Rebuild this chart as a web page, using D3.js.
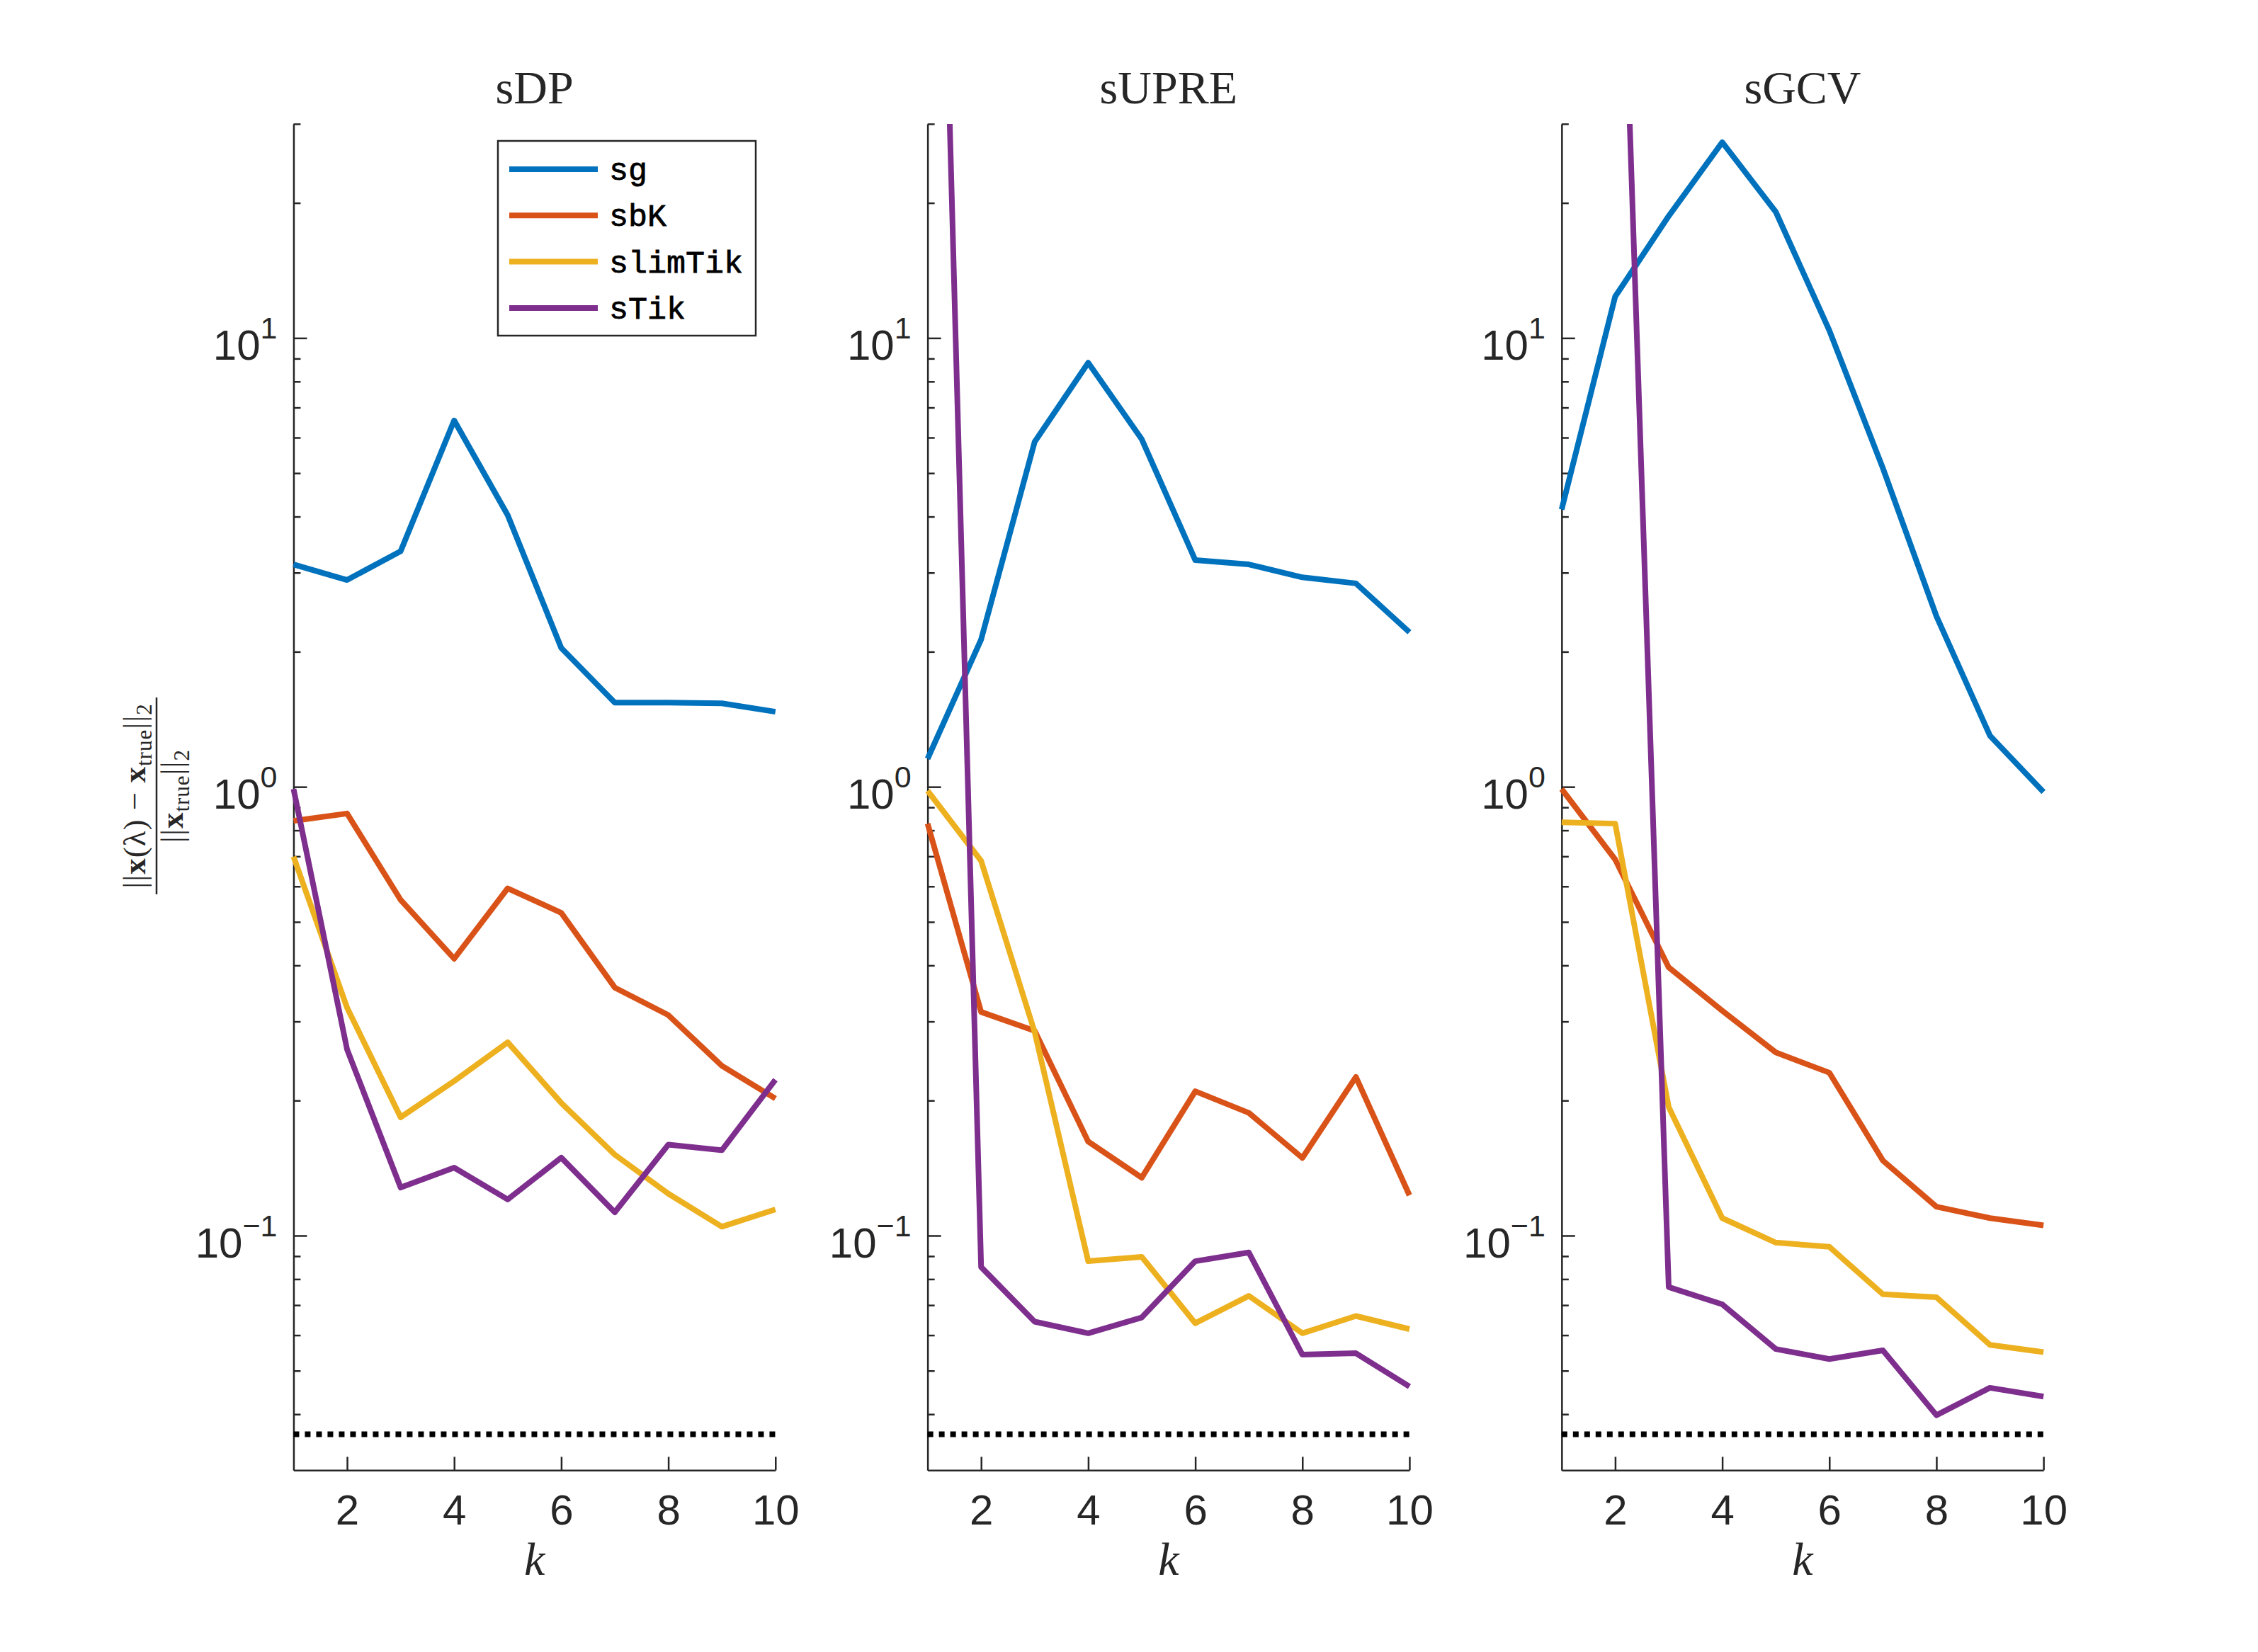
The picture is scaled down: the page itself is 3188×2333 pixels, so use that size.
<!DOCTYPE html>
<html>
<head>
<meta charset="utf-8">
<script src="https://cdn.jsdelivr.net/npm/d3@7"></script>
<style>
  body { margin: 0; background: #fff; }
  svg { display: block; }
</style>
</head>
<body>
<div id="chart"></div>
<script>
const width = 3188;
const height = 2333;

// data
const kValues = [1, 2, 3, 4, 5, 6, 7, 8, 9, 10];
const panelTitles = ['sDP', 'sUPRE', 'sGCV'];
const methodNames = ['sg', 'sbK', 'slimTik', 'sTik'];
const methodColors = ['#0072BD', '#D95319', '#EDB120', '#7E2F8E'];

const sdpSg = [3.13, 2.89, 3.35, 6.55, 4.03, 2.04, 1.54, 1.54, 1.535, 1.47];
const sdpSbK = [0.84, 0.872, 0.56, 0.414, 0.594, 0.524, 0.357, 0.31, 0.239, 0.202];
const sdpSlimTik = [0.699, 0.322, 0.1835, 0.221, 0.2696, 0.1976, 0.1515, 0.124, 0.1047, 0.1144];
const sdpSTik = [0.989, 0.26, 0.128, 0.1417, 0.1204, 0.1492, 0.1127, 0.1595, 0.155, 0.2225];

const supreSg = [1.155, 2.13, 5.87, 8.81, 5.95, 3.2, 3.13, 2.93, 2.84, 2.21];
const supreSbK = [0.828, 0.315, 0.286, 0.162, 0.1346, 0.2097, 0.1877, 0.149, 0.2257, 0.123];
const supreSlimTik = [0.98, 0.684, 0.284, 0.0877, 0.0897, 0.0638, 0.0734, 0.0606, 0.0662, 0.0619];
const supreSTik = [1900, 0.0851, 0.0643, 0.0606, 0.0657, 0.0877, 0.0917, 0.0543, 0.0547, 0.0461];

const sgcvSg = [4.15, 12.37, 18.7, 27.3, 19.1, 10.4, 5.13, 2.4, 1.3, 0.974];
const sgcvSbK = [0.989, 0.689, 0.396, 0.317, 0.256, 0.2307, 0.147, 0.116, 0.1094, 0.1054];
const sgcvSlimTik = [0.834, 0.828, 0.1933, 0.1094, 0.0965, 0.0944, 0.074, 0.0729, 0.0571, 0.055];
const sgcvSTik = [1500, 280, 0.0768, 0.0703, 0.0559, 0.0531, 0.0555, 0.0398, 0.0458, 0.0438];

// dotted reference level
const optimalError = 0.0361;

const xTicks = [2, 4, 6, 8, 10];
const yMajorTicks = [0.1, 1, 10];
const yMajorLabels = [['10', '-1'], ['10', '0'], ['10', '1']];
const yMinorTicks = [0.04, 0.05, 0.06, 0.07, 0.08, 0.09, 0.2, 0.3, 0.4, 0.5, 0.6, 0.7, 0.8, 0.9,
  2, 3, 4, 5, 6, 7, 8, 9, 20, 30];

const panelSeries = [
  [sdpSg, sdpSbK, sdpSlimTik, sdpSTik],
  [supreSg, supreSbK, supreSlimTik, supreSTik],
  [sgcvSg, sgcvSbK, sgcvSlimTik, sgcvSTik],
];

//
// layout (matlab subplot(1,3,i) positions)
//
const axLefts = [0.13, 0.4108, 0.6916].map(f => f * width);
const axWidth = 0.2134 * width;
const axHeight = 0.815 * height;
const axTop = height - 0.11 * height - axHeight;

const textGray = '#262626';
const sansFont = '"Liberation Sans", Arial, Helvetica, sans-serif';
const serifFont = '"Liberation Serif", "Times New Roman", serif';
const monoFont = '"Liberation Mono", "Courier New", monospace';

const svg = d3.select('#chart').append('svg')
  .attr('width', width)
  .attr('height', height);

svg.append('rect')
  .attr('width', width)
  .attr('height', height)
  .attr('fill', '#fff');

const x = d3.scaleLinear().domain([1, 10]).range([0, axWidth]);
const y = d3.scaleLog().domain([0.03, 30]).range([axHeight, 0]);

const line = d3.line()
  .x((d, i) => x(kValues[i]))
  .y(d => y(d));

panelSeries.forEach((seriesList, p) => {
  const g = svg.append('g')
    .attr('transform', `translate(${axLefts[p]},${axTop})`);

  g.append('clipPath')
    .attr('id', `clip${p}`)
    .append('rect')
      .attr('x', -10)
      .attr('y', 0)
      .attr('width', axWidth + 20)
      .attr('height', axHeight);

  // y axis, major + minor ticks pointing inward
  const yAxisMajor = g.append('g')
    .call(d3.axisLeft(y).tickValues(yMajorTicks).tickSize(-19).tickSizeOuter(0).tickFormat(''));
  const yAxisMinor = g.append('g')
    .call(d3.axisLeft(y).tickValues(yMinorTicks).tickSize(-10).tickSizeOuter(0).tickFormat(''));
  yAxisMinor.select('.domain').remove();

  const xAxis = g.append('g')
    .attr('transform', `translate(0,${axHeight})`)
    .call(d3.axisBottom(x).tickValues(xTicks).tickSize(-19).tickSizeOuter(0).tickPadding(34));

  [yAxisMajor, yAxisMinor, xAxis].forEach(a => {
    a.selectAll('path, line')
      .attr('stroke', textGray)
      .attr('stroke-width', 2.5);
  });
  xAxis.selectAll('text')
    .attr('fill', textGray)
    .style('font-family', sansFont)
    .style('font-size', '60px');

  // log tick labels with superscripts
  yMajorTicks.forEach((v, i) => {
    const t = g.append('text')
      .attr('x', -23)
      .attr('y', y(v) + 31)
      .attr('text-anchor', 'end')
      .attr('fill', textGray)
      .style('font-family', sansFont)
      .style('font-size', '60px');
    t.append('tspan').text(yMajorLabels[i][0]);
    t.append('tspan')
      .attr('dy', -30)
      .style('font-size', '43px')
      .text(yMajorLabels[i][1].replace('-', '\u2212'));
  });

  // dotted reference
  g.append('line')
    .attr('x1', x(1))
    .attr('x2', x(10))
    .attr('y1', y(optimalError))
    .attr('y2', y(optimalError))
    .attr('stroke', '#000')
    .attr('stroke-width', 8)
    .attr('stroke-dasharray', '8,8');

  const lines = g.append('g').attr('clip-path', `url(#clip${p})`);
  seriesList.forEach((series, m) => {
    lines.append('path')
      .datum(series)
      .attr('d', line)
      .attr('fill', 'none')
      .attr('stroke', methodColors[m])
      .attr('stroke-width', 8)
      .attr('stroke-linejoin', 'round');
  });

  g.append('text')
    .attr('x', axWidth / 2)
    .attr('y', -29)
    .attr('text-anchor', 'middle')
    .attr('fill', textGray)
    .style('font-family', serifFont)
    .style('font-size', '66px')
    .text(panelTitles[p]);

  g.append('text')
    .attr('x', axWidth / 2)
    .attr('y', axHeight + 148)
    .attr('text-anchor', 'middle')
    .attr('fill', textGray)
    .style('font-family', serifFont)
    .style('font-style', 'italic')
    .style('font-size', '66px')
    .text('k');
});

//
// legend in the first panel
//
const legend = svg.append('g')
  .attr('transform', 'translate(703,199)');

legend.append('rect')
  .attr('width', 364)
  .attr('height', 275)
  .attr('fill', '#fff')
  .attr('stroke', textGray)
  .attr('stroke-width', 2.5);

methodNames.forEach((name, i) => {
  const rowY = 40 + i * 65.3;
  legend.append('line')
    .attr('x1', 16)
    .attr('x2', 141)
    .attr('y1', rowY)
    .attr('y2', rowY)
    .attr('stroke', methodColors[i])
    .attr('stroke-width', 8);
  legend.append('text')
    .attr('x', 157)
    .attr('y', rowY + 15)
    .attr('fill', '#000')
    .style('font-family', monoFont)
    .style('font-size', '45px')
    .style('stroke', '#000')
    .style('stroke-width', 0.8)
    .text(name);
});

//
// y label: fraction, rotated
//
const yLabel = svg.append('g')
  .attr('transform', 'translate(221,1124) rotate(-90)')
  .attr('fill', textGray)
  .style('font-family', serifFont)
  .style('font-size', '45px');

yLabel.append('line')
  .attr('x1', -139)
  .attr('x2', 139)
  .attr('stroke', textGray)
  .attr('stroke-width', 2.5);

const numerator = yLabel.append('text')
  .attr('y', -16)
  .attr('text-anchor', 'middle')
  .style('letter-spacing', '1px');
numerator.append('tspan').text('||');
numerator.append('tspan').style('font-weight', 'bold').text('x');
numerator.append('tspan').text('(λ) \u2212 ');
numerator.append('tspan').style('font-weight', 'bold').text('x');
numerator.append('tspan').attr('dy', 9).style('font-size', '31px').text('true');
numerator.append('tspan').attr('dy', -9).text('||');
numerator.append('tspan').attr('dy', 9).style('font-size', '31px').text('2');

const denominator = yLabel.append('text')
  .attr('y', 37)
  .attr('text-anchor', 'middle')
  .style('letter-spacing', '1px');
denominator.append('tspan').text('||');
denominator.append('tspan').style('font-weight', 'bold').text('x');
denominator.append('tspan').attr('dy', 9).style('font-size', '31px').text('true');
denominator.append('tspan').attr('dy', -9).text('||');
denominator.append('tspan').attr('dy', 9).style('font-size', '31px').text('2');
</script>
</body>
</html>
